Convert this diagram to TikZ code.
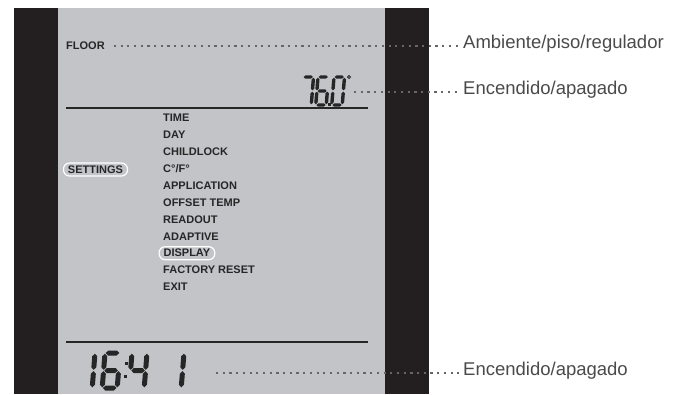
\documentclass[tikz,border=0pt]{standalone}
\usepackage{fontspec}
\setmainfont{Liberation Sans}

\definecolor{lcdgray}{HTML}{C3C4C8}
\definecolor{bezel}{HTML}{231F20}
\definecolor{lcdink}{HTML}{262626}
\definecolor{dotgray}{HTML}{666666}
\definecolor{labelgray}{HTML}{4A4A4A}

\tikzset{
  menuitem/.style={anchor=west, inner sep=0pt, text=lcdink,
    font=\fontsize{11}{13}\selectfont\bfseries},
  selbox/.style={menuitem, draw=white, line width=1.2pt, rounded corners=6pt,
    inner xsep=4.5pt, inner ysep=2.6pt},
  sidelabel/.style={anchor=mid west, inner sep=0pt, text=labelgray,
    font=\fontsize{18.5}{20}\selectfont},
  leader/.style={draw=dotgray, line width=2.2pt, dash pattern=on 2.2pt off 4.5pt},
}

% 7セグメントの部品 (横棒と縦棒)
\newcommand{\lcdhseg}[3]{\fill[lcdink] (#1+\lcdsp,#3) -- ++(\lcdhalf,-\lcdhalf)
  -- (#2-\lcdsp-\lcdhalf,#3-\lcdhalf) -- (#2-\lcdsp,#3)
  -- (#2-\lcdsp-\lcdhalf,#3+\lcdhalf) -- (#1+\lcdsp+\lcdhalf,#3+\lcdhalf) -- cycle;}
\newcommand{\lcdvseg}[3]{\fill[lcdink] (#1,#2+\lcdsp) -- ++(\lcdhalf,\lcdhalf)
  -- (#1+\lcdhalf,#3-\lcdsp-\lcdhalf) -- (#1,#3-\lcdsp)
  -- (#1-\lcdhalf,#3-\lcdsp-\lcdhalf) -- (#1-\lcdhalf,#2+\lcdsp+\lcdhalf) -- cycle;}
\newcommand{\lcdsega}{\lcdhseg{0}{\lcdw}{0}}
\newcommand{\lcdsegb}{\lcdvseg{\lcdw}{0}{\lcdht/2}}
\newcommand{\lcdsegc}{\lcdvseg{\lcdw}{\lcdht/2}{\lcdht}}
\newcommand{\lcdsegd}{\lcdhseg{0}{\lcdw}{\lcdht}}
\newcommand{\lcdsege}{\lcdvseg{0}{\lcdht/2}{\lcdht}}
\newcommand{\lcdsegf}{\lcdvseg{0}{0}{\lcdht/2}}
\newcommand{\lcdsegg}{\lcdhseg{0}{\lcdw}{\lcdht/2}}

% 7セグメント数字: x, y(上端), 幅, 高さ, 太さ, セグメント
\newcommand{\lcddigit}[6]{%
  \begin{scope}[shift={(#1,#2)}, xslant=0.08]
    \pgfmathsetmacro{\lcdw}{#3}
    \pgfmathsetmacro{\lcdht}{#4}
    \pgfmathsetmacro{\lcdhalf}{#5/2}
    \pgfmathsetmacro{\lcdsp}{0.7}
    \foreach \s in {#6} {\csname lcdseg\s\endcsname}
  \end{scope}}

\begin{document}
\begin{tikzpicture}[x=1pt, y=-1pt]
  \useasboundingbox (0,0) rectangle (680,394);

  % 黒い枠と液晶パネル
  \fill[bezel] (14,8) rectangle (58,394);
  \fill[lcdgray] (58,8) rectangle (385,394);
  \fill[bezel] (385,8) rectangle (429,394);

  % 区切り線
  \draw[lcdink, line width=1.5pt] (66,108) -- (368,108);
  \draw[lcdink, line width=1.5pt] (66,342) -- (368,342);

  % 上段 (FLOOR と温度)
  \node[menuitem] (floor) at (66,46) {FLOOR};
  \lcddigit{303}{77}{10.5}{28}{3.4}{a,b,c}
  \lcddigit{318}{77}{10.5}{28}{3.4}{a,f,g,e,d,c}
  \lcddigit{334}{77}{10.5}{28}{3.4}{a,b,c,d,e,f}
  \fill[lcdink] (328.4,103.3) rectangle ++(2.6,2.6);
  \draw[lcdink, line width=0.9pt] (349,77) circle (1.6);
  \coordinate (tempend) at (354,92);

  % 設定メニュー
  \node[selbox, anchor=center] (settings) at (95.5,169.5) {SETTINGS};
  \node[menuitem] (time) at (163,118) {TIME};
  \node[menuitem] (day) at (163,134.9) {DAY};
  \node[menuitem] (childlock) at (163,151.8) {CHILDLOCK};
  \node[menuitem] (units) at (163,168.7) {C°/F°};
  \node[menuitem] (application) at (163,185.6) {APPLICATION};
  \node[menuitem] (offset) at (163,202.5) {OFFSET TEMP};
  \node[menuitem] (readout) at (163,219.4) {READOUT};
  \node[menuitem] (adaptive) at (163,236.3) {ADAPTIVE};
  \node[selbox] (display) at (158.5,253.2) {DISPLAY};
  \node[menuitem] (factory) at (163,270.1) {FACTORY RESET};
  \node[menuitem] (exit) at (163,287) {EXIT};

  % 下段 (時計)
  \lcddigit{80}{353}{15}{35}{5}{b,c}
  \lcddigit{105}{353}{15}{35}{5}{a,f,g,e,d,c}
  \lcddigit{132}{353}{15}{35}{5}{f,g,b,c}
  \lcddigit{169}{353}{15}{35}{5}{b,c}
  \fill[lcdink] (124.5,362) rectangle ++(3.2,3.2);
  \fill[lcdink] (123.5,375) rectangle ++(3.2,3.2);
  \coordinate (clockend) at (216,373);

  % 右側の説明
  \node[sidelabel] (lblfloor) at (463,46) {Ambiente/piso/regulador};
  \node[sidelabel] (lbltemp) at (463,92) {Encendido/apagado};
  \node[sidelabel] (lblclock) at (463,373) {Encendido/apagado};

  % 点線の引き出し線
  \draw[leader, shorten <=9pt, shorten >=3pt] (floor.east) -- (lblfloor.mid west);
  \draw[leader, shorten >=3pt] (tempend) -- (lbltemp.mid west);
  \draw[leader, shorten >=3pt] (clockend) -- (lblclock.mid west);
\end{tikzpicture}
\end{document}
